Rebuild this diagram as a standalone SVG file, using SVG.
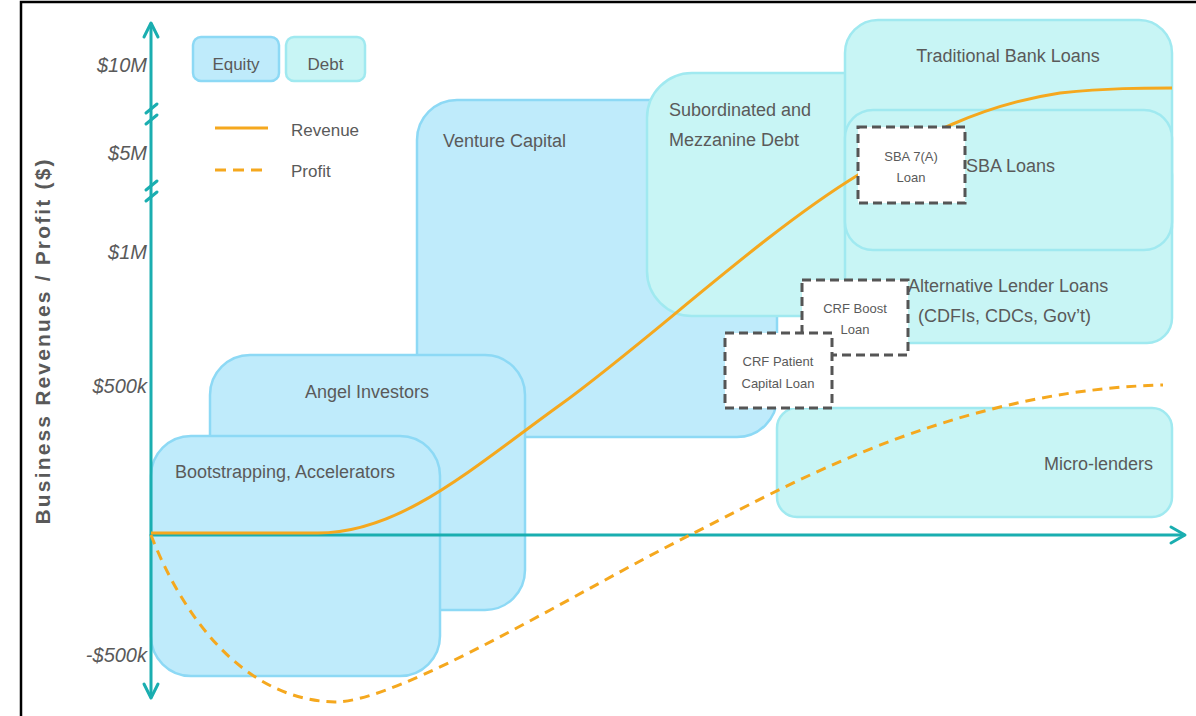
<svg xmlns="http://www.w3.org/2000/svg" width="1196" height="716" viewBox="0 0 1196 716">
  <defs>
    <style>
      .eq{fill:#bfebfb;stroke:#8dd9f5;stroke-width:2.5}
      .dt{fill:#c8f5f5;stroke:#a0e9f0;stroke-width:2.5}
      .lbl{font-family:"Liberation Sans",Arial,sans-serif;font-size:18px;fill:#5a5a5a}
      .leg{font-family:"Liberation Sans",Arial,sans-serif;font-size:17px;fill:#5a5a5a}
      .sm{font-family:"Liberation Sans",Arial,sans-serif;font-size:13px;fill:#5a5a5a;text-anchor:middle}
      .tick{font-family:"Liberation Sans",Arial,sans-serif;font-size:20px;font-style:italic;fill:#5a5a5a;text-anchor:end}
      .ax{stroke:#1aaeb0;stroke-width:3;fill:none;stroke-linecap:round;stroke-linejoin:round}
      .rev{stroke:#f5a81e;stroke-width:3;fill:none}
      .pro{stroke:#f5a81e;stroke-width:3;fill:none;stroke-dasharray:10 7}
      .prog{fill:#fff;stroke:#555;stroke-width:3;stroke-dasharray:9 5}
    </style>
  </defs>

  <rect width="1196" height="716" fill="#fff"/>
  <!-- frame -->
  <path d="M21,716 V2 H1196" stroke="#000" stroke-width="2.5" fill="none"/>

  <!-- funding sources -->
  <g id="venture-capital">
    <rect class="eq" x="417" y="100" width="360" height="337" rx="40"/>
    <text class="lbl" x="443" y="147">Venture Capital</text>
  </g>
  <g id="subordinated-mezzanine">
    <rect class="dt" x="647" y="73" width="260" height="243" rx="45"/>
    <text class="lbl" x="669" y="116">Subordinated and</text>
    <text class="lbl" x="669" y="146">Mezzanine Debt</text>
  </g>
  <g id="traditional-bank-loans">
    <rect class="dt" x="845" y="20" width="327" height="240" rx="33"/>
    <text class="lbl" x="1008" y="62" text-anchor="middle">Traditional Bank Loans</text>
  </g>
  <g id="alternative-lender-loans">
    <rect class="dt" x="845" y="150" width="327" height="193" rx="25"/>
    <text class="lbl" x="908" y="292">Alternative Lender Loans</text>
    <text class="lbl" x="918" y="322">(CDFIs, CDCs, Gov’t)</text>
  </g>
  <g id="sba-loans">
    <rect class="dt" x="845" y="110" width="327" height="140" rx="28"/>
    <text class="lbl" x="966" y="172">SBA Loans</text>
  </g>
  <g id="micro-lenders">
    <rect class="dt" x="777" y="408" width="395" height="109" rx="20"/>
    <text class="lbl" x="1153" y="470" text-anchor="end">Micro-lenders</text>
  </g>
  <g id="angel-investors">
    <rect class="eq" x="210" y="355" width="315" height="255" rx="40"/>
    <text class="lbl" x="367" y="398" text-anchor="middle">Angel Investors</text>
  </g>
  <g id="bootstrapping">
    <rect class="eq" x="151" y="436" width="289" height="240" rx="40"/>
    <text class="lbl" x="175" y="478">Bootstrapping, Accelerators</text>
  </g>

  <!-- legend -->
  <g id="legend">
    <rect class="eq" x="193" y="37" width="86" height="44" rx="8"/>
    <text class="leg" x="236" y="70" text-anchor="middle">Equity</text>
    <rect class="dt" x="286" y="37" width="79" height="44" rx="8"/>
    <text class="leg" x="325.5" y="70" text-anchor="middle">Debt</text>
    <line class="rev" x1="215" y1="128" x2="268" y2="128"/>
    <text class="leg" x="291" y="136">Revenue</text>
    <line class="pro" x1="215" y1="170" x2="262" y2="170" style="stroke-dasharray:11 7"/>
    <text class="leg" x="291" y="177">Profit</text>
  </g>

  <!-- axes and scale -->
  <g id="connectors">
    <path class="ax" d="M151,24 V697"/>
    <path class="ax" d="M144,37 L151,23 L158,37"/>
    <path class="ax" d="M144,684 L151,698 L158,684"/>
    <path class="ax" d="M151,535 H1184"/>
    <path class="ax" d="M1171,527 L1185,535 L1171,543"/>
    <path class="ax" stroke-width="2.5" d="M146,113 L157,104 M146,124 L157,115"/>
    <path class="ax" stroke-width="2.5" d="M146,190 L157,181 M146,201 L157,192"/>

    <path class="rev" d="M151,533 H318 C400,533 470,470 560,405 C650,340 760,235 858,175 C920,137 980,105 1060,93 C1110,88 1140,88 1172,88"/>
    <path class="pro" d="M151,535 C180,610 240,700 335,702 C400,702 580,590 690,535 C780,490 950,390 1163,385"/>
  </g>

  <g id="y-axis-labels">
    <text class="tick" x="147" y="72">$10M</text>
    <text class="tick" x="147" y="160">$5M</text>
    <text class="tick" x="147" y="259">$1M</text>
    <text class="tick" x="147" y="393">$500k</text>
    <text class="tick" x="147" y="662">-$500k</text>
    <text transform="translate(50,342) rotate(-90)" text-anchor="middle" font-family="Liberation Sans, Arial, sans-serif" font-size="21" font-weight="bold" fill="#595959" textLength="365" lengthAdjust="spacing">Business Revenues / Profit ($)</text>
  </g>

  <!-- highlighted programs -->
  <g id="sba-7a-loan">
    <rect class="prog" x="858" y="127" width="107" height="76"/>
    <text class="sm" x="911" y="161">SBA 7(A)</text>
    <text class="sm" x="911" y="182">Loan</text>
  </g>
  <g id="crf-boost-loan">
    <rect class="prog" x="802" y="280" width="106" height="75"/>
    <text class="sm" x="855" y="313">CRF Boost</text>
    <text class="sm" x="855" y="334">Loan</text>
  </g>
  <g id="crf-patient-capital-loan">
    <rect class="prog" x="725" y="333" width="107" height="75"/>
    <text class="sm" x="778" y="366">CRF Patient</text>
    <text class="sm" x="778" y="388">Capital Loan</text>
  </g>
</svg>
